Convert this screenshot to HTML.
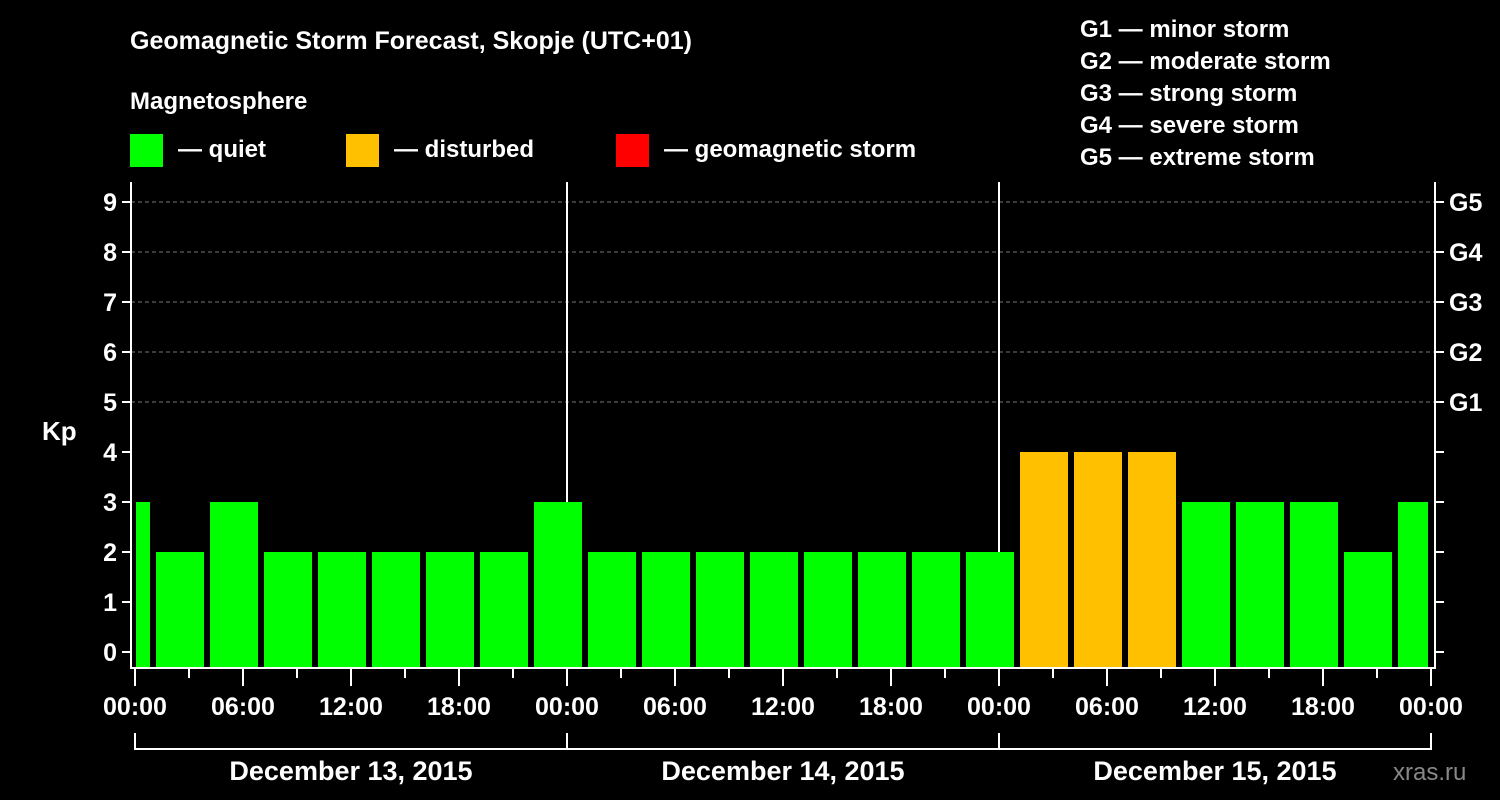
<!DOCTYPE html>
<html><head><meta charset="utf-8"><style>
html,body{margin:0;padding:0;background:#000;}
svg{display:block;font-family:"Liberation Sans",Arial,sans-serif;font-weight:bold;}
</style></head><body>
<svg id="chart" width="1500" height="800" xmlns="http://www.w3.org/2000/svg">
<rect width="1500" height="800" fill="#000"/>
<text x="130" y="49" fill="#fff" font-size="25">Geomagnetic Storm Forecast, Skopje (UTC+01)</text>
<text x="130" y="109" fill="#fff" font-size="24">Magnetosphere</text>
<g><rect x="130" y="134" width="33" height="33" fill="#00ff00"/><text x="178" y="157" fill="#fff" font-size="24">— quiet</text></g>
<g><rect x="346" y="134" width="33" height="33" fill="#ffc000"/><text x="394" y="157" fill="#fff" font-size="24">— disturbed</text></g>
<g><rect x="616" y="134" width="33" height="33" fill="#ff0000"/><text x="664" y="157" fill="#fff" font-size="24">— geomagnetic storm</text></g>
<g fill="#fff" font-size="24">
<text x="1080" y="37">G1 — minor storm</text>
<text x="1080" y="69">G2 — moderate storm</text>
<text x="1080" y="101">G3 — strong storm</text>
<text x="1080" y="133">G4 — severe storm</text>
<text x="1080" y="165">G5 — extreme storm</text>
</g>
<text x="42" y="440" fill="#fff" font-size="26">Kp</text>
<text x="1393" y="780" fill="#888" font-size="24" font-weight="normal">xras.ru</text>
<g id="grid"></g><g id="bars"></g><g id="axes"></g>
</svg>
<script>
const kpValues=[3,2,3,2,2,2,2,2,3,2,2,2,2,2,2,2,2,4,4,4,3,3,3,2,3];
const yTicks=[0,1,2,3,4,5,6,7,8,9];
const gLabels=["G1","G2","G3","G4","G5"];
const gLevels=[5,6,7,8,9];
const xTickLabels=["00:00","06:00","12:00","18:00","00:00","06:00","12:00","18:00","00:00","06:00","12:00","18:00","00:00"];
const dayLabels=["December 13, 2015","December 14, 2015","December 15, 2015"];
const NS="http://www.w3.org/2000/svg";
const X0=135,PXH=18,Y0=652,PXU=50,LEFT=131,RIGHT=1435,TOP=182,BOT=668;
const xs=h=>X0+h*PXH, ys=v=>Y0-v*PXU;
function mk(tag,attrs,parent){const e=document.createElementNS(NS,tag);for(const k in attrs)e.setAttribute(k,attrs[k]);parent.appendChild(e);return e;}
const grid=document.getElementById('grid'),bars=document.getElementById('bars'),axes=document.getElementById('axes');
// grid lines
gLevels.forEach(v=>{const l=mk('line',{x1:LEFT,x2:RIGHT,y1:ys(v),y2:ys(v),stroke:'#777','stroke-dasharray':'4,3','stroke-width':1},grid);

});
// day separators
[24,48].forEach(h=>{const l=mk('line',{x1:xs(h),x2:xs(h),y1:TOP,y2:BOT,stroke:'#fff','stroke-width':2},grid);

});
// bars
kpValues.forEach((v,k)=>{
 let x1=xs(3*k-2)+3,x2=x1+48;
 x1=Math.max(x1,LEFT+5);x2=Math.min(x2,RIGHT-7);
 const c=v>=5?'#ff0000':(v>=4?'#ffc000':'#00ff00');
 const r=mk('rect',{x:x1,y:ys(v),width:x2-x1,height:BOT-ys(v),fill:c},bars);
 
 
});
// axes frame
const ax=mk('path',{d:`M${LEFT} ${TOP}V${BOT}H${RIGHT}V${TOP}`,stroke:'#fff','stroke-width':2,fill:'none'},axes);


yTicks.forEach(v=>{
 mk('line',{x1:LEFT-9,x2:LEFT,y1:ys(v),y2:ys(v),stroke:'#fff','stroke-width':2},axes);
 mk('line',{x1:RIGHT,x2:RIGHT+9,y1:ys(v),y2:ys(v),stroke:'#fff','stroke-width':2},axes);
 const t=mk('text',{x:LEFT-14,y:ys(v)+9,fill:'#fff','font-size':25,'text-anchor':'end'},axes);t.textContent=v;
 
 
});
gLevels.forEach((v,i)=>{const t=mk('text',{x:1449,y:ys(v)+9,fill:'#fff','font-size':25},axes);t.textContent=gLabels[i];
 
 });
for(let h=0;h<=72;h+=3){const major=h%6===0;
 mk('line',{x1:xs(h),x2:xs(h),y1:BOT,y2:BOT+(major?18:10),stroke:'#fff','stroke-width':2},axes);}
xTickLabels.forEach((s,i)=>{const t=mk('text',{x:xs(i*6),y:715,fill:'#fff','font-size':25,'text-anchor':'middle'},axes);t.textContent=s;
 
 });
mk('path',{d:`M${xs(0)} 733V749H${xs(72)}V733M${xs(24)} 733V749M${xs(48)} 733V749`,stroke:'#fff','stroke-width':2,fill:'none'},axes);
dayLabels.forEach((s,i)=>{const t=mk('text',{x:xs(i*24+12),y:780,fill:'#fff','font-size':27,'text-anchor':'middle'},axes);t.textContent=s;
 
 });
</script>
</body></html>
